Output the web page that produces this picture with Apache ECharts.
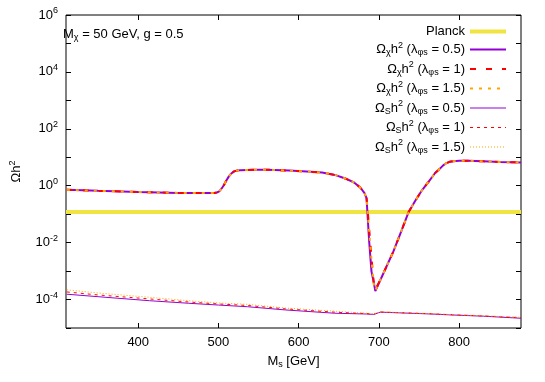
<!DOCTYPE html>
<html>
<head>
<meta charset="utf-8">
<script src="https://cdn.jsdelivr.net/npm/echarts@6/dist/echarts.min.js"></script>
<style>
  html, body { margin: 0; padding: 0; background: #fff; }
  #chart { width: 545px; height: 382px; }
</style>
</head>
<body>
<div id="chart"></div>
<script>
// x range and tick labels
const xMin = 310
const xMax = 877
const xTicks = [400, 500, 600, 700, 800]
const yTicks = [1e-5, 1e-4, 1e-3, 1e-2, 1e-1, 1, 10, 100, 1e3, 1e4, 1e5, 1e6]
const yLabels = [1e-4, 1e-2, 1, 100, 1e4, 1e6]
const planck = 0.12

// Omega_chi h^2 (upper curves)
const msChi = [311, 350, 400, 450, 480, 495, 498, 501, 504, 507, 510, 513, 516, 519.5, 523, 527.5, 545, 560, 588, 610, 629, 645, 658, 669, 677, 682, 684.5, 685.5, 687.8, 690.7, 693.5, 695.5, 706, 718, 728, 737, 746, 754, 762, 770, 776, 780, 784, 788, 793, 800, 811, 830, 851, 877]
const chi05 = [0.72, 0.66, 0.60, 0.56, 0.55, 0.56, 0.58, 0.63, 0.8, 1.08, 1.55, 2.13, 2.7, 3.2, 3.4, 3.5, 3.65, 3.65, 3.4, 3.15, 2.9, 2.4, 1.8, 1.3, 0.85, 0.55, 0.37, 0.13, 0.011, 9.6e-4, 4e-4, 2.0e-4, 8.9e-4, 4.9e-3, 0.026, 0.12, 0.32, 0.72, 1.4, 2.8, 4.0, 5.2, 6.2, 6.9, 7.3, 7.55, 7.6, 7.2, 6.8, 6.6]
const chi1 = [0.72, 0.66, 0.60, 0.56, 0.55, 0.56, 0.58, 0.63, 0.8, 1.08, 1.55, 2.13, 2.7, 3.2, 3.4, 3.5, 3.65, 3.65, 3.4, 3.15, 2.9, 2.4, 1.8, 1.3, 0.85, 0.55, 0.37, 0.2, 0.03, 3e-3, 4e-4, 2.2e-4, 8.9e-4, 4.9e-3, 0.026, 0.12, 0.32, 0.72, 1.4, 2.8, 4.0, 5.2, 6.2, 6.9, 7.3, 7.55, 7.6, 7.2, 6.8, 6.6]
const chi15 = [0.72, 0.66, 0.60, 0.56, 0.55, 0.56, 0.58, 0.63, 0.8, 1.08, 1.55, 2.13, 2.7, 3.2, 3.4, 3.5, 3.65, 3.65, 3.4, 3.15, 2.9, 2.4, 1.8, 1.3, 0.85, 0.55, 0.37, 0.18, 0.025, 2.5e-3, 3.5e-4, 2.1e-4, 8.9e-4, 4.9e-3, 0.026, 0.12, 0.32, 0.72, 1.4, 2.8, 4.0, 5.2, 6.2, 6.9, 7.3, 7.55, 7.6, 7.2, 6.8, 6.6]

// Omega_S h^2 (lower curves)
const msS = [311, 350, 414, 463, 500, 536, 584, 645, 685, 693.5, 701.6, 766, 787, 830, 877]
const s05 = [1.54e-4, 1.26e-4, 9.1e-5, 7.4e-5, 6.4e-5, 5.6e-5, 4.3e-5, 3.3e-5, 3.1e-5, 3.0e-5, 3.6e-5, 3.1e-5, 2.9e-5, 2.6e-5, 2.2e-5]
const s1 = [1.85e-4, 1.45e-4, 1.05e-4, 8.2e-5, 7.0e-5, 6.2e-5, 4.7e-5, 3.6e-5, 3.2e-5, 3.05e-5, 3.65e-5, 3.15e-5, 2.95e-5, 2.65e-5, 2.3e-5]
const s15 = [2.2e-4, 1.7e-4, 1.2e-4, 9.1e-5, 7.6e-5, 6.8e-5, 5.0e-5, 3.9e-5, 3.3e-5, 3.1e-5, 3.7e-5, 3.2e-5, 3.0e-5, 2.7e-5, 2.4e-5]

const purple = '#9400d3'
const red = '#ff0000'
const orange = '#ffa500'
const yellow = '#f0e442'
const font = 'Liberation Sans, Arial, sans-serif'

const rich = {
  sub: { fontSize: 9, fontFamily: font, color: '#000', padding: [7, 0, 0, 0] },
  sup: { fontSize: 9, fontFamily: font, color: '#000', padding: [0, 0, 8, 0] }
}

const legendNames = {
  planck: 'Planck',
  chi05: 'Ω{sub|χ}h{sup|2} (λ{sub|φs} = 0.5)',
  chi1: 'Ω{sub|χ}h{sup|2} (λ{sub|φs} = 1)',
  chi15: 'Ω{sub|χ}h{sup|2} (λ{sub|φs} = 1.5)',
  s05: 'Ω{sub|S}h{sup|2} (λ{sub|φs} = 0.5)',
  s1: 'Ω{sub|S}h{sup|2} (λ{sub|φs} = 1)',
  s15: 'Ω{sub|S}h{sup|2} (λ{sub|φs} = 1.5)'
}

// line styles per series: [color, width, dash]
const styles = {
  planck: [yellow, 4, 'solid'],
  chi05: [purple, 2, 'solid'],
  chi1: [red, 2, [6, 10]],
  chi15: [orange, 2, [3, 6]],
  s05: [purple, 1, 'solid'],
  s1: [red, 1, [3, 4]],
  s15: [orange, 1, [1, 2]]
}
const lineStyleOf = n => ({ color: styles[n][0], width: styles[n][1], type: styles[n][2] })

const zip = (xs, ys) => xs.map((x, i) => [x, ys[i]])

function line(name, xs, ys) {
  return {
    name: name,
    type: 'line',
    data: zip(xs, ys),
    symbol: 'none',
    showSymbol: false,
    color: styles[name][0],
    lineStyle: lineStyleOf(name)
  }
}

const chart = echarts.init(document.getElementById('chart'))
const option = {
  animation: false,
  textStyle: { fontFamily: font },
  title: {
    text: 'M{sub|χ} = 50 GeV, g = 0.5',
    left: 63,
    top: 26,
    padding: 0,
    textStyle: { fontSize: 13, fontWeight: 'normal', color: '#000', fontFamily: font, rich: rich }
  },
  legend: {
    orient: 'vertical',
    right: 37,
    top: 25,
    padding: 0,
    align: 'right',
    itemWidth: 36,
    itemHeight: 14,
    itemGap: 3,
    itemStyle: { opacity: 0 },
    formatter: n => legendNames[n],
    textStyle: { fontSize: 13, color: '#000', fontFamily: font, rich: rich },
    data: Object.keys(styles).map(n => ({ name: n, lineStyle: lineStyleOf(n) }))
  },
  grid: {
    left: 55,
    right: 24,
    top: 15,
    bottom: 54,
    show: true,
    borderColor: '#000',
    borderWidth: 1
  },
  xAxis: [
    {
      type: 'value',
      min: xMin,
      max: xMax,
      name: 'M{sub|s} [GeV]',
      nameLocation: 'middle',
      nameGap: 25,
      nameTextStyle: { fontSize: 13, color: '#000', fontFamily: font, rich: rich },
      axisLine: { show: false },
      splitLine: { show: false },
      axisTick: { inside: true, length: 5, customValues: xTicks, lineStyle: { color: '#000' } },
      axisLabel: { customValues: xTicks, color: '#000', fontSize: 13, margin: 8 }
    },
    {
      type: 'value',
      position: 'top',
      min: xMin,
      max: xMax,
      axisLine: { show: false },
      splitLine: { show: false },
      axisTick: { inside: true, length: 5, customValues: xTicks, lineStyle: { color: '#000' } },
      axisLabel: { show: false, customValues: xTicks }
    }
  ],
  yAxis: [
    {
      type: 'log',
      logBase: 10,
      min: 1e-5,
      max: 1e6,
      name: 'Ωh{sup|2}',
      nameLocation: 'middle',
      nameGap: 41,
      nameTextStyle: { fontSize: 13, color: '#000', fontFamily: font, rich: rich },
      axisLine: { show: false },
      splitLine: { show: false },
      axisTick: { inside: true, length: 5, customValues: yTicks, lineStyle: { color: '#000' } },
      axisLabel: {
        customValues: yLabels,
        color: '#000',
        fontSize: 13,
        margin: 8,
        rich: rich,
        formatter: v => '10{sup|' + Math.round(Math.log10(v)) + '}'
      }
    },
    {
      type: 'log',
      logBase: 10,
      min: 1e-5,
      max: 1e6,
      position: 'right',
      axisLine: { show: false },
      splitLine: { show: false },
      axisTick: { inside: true, length: 5, customValues: yTicks, lineStyle: { color: '#000' } },
      axisLabel: { show: false, customValues: yLabels }
    }
  ],
  series: [
    line('planck', [xMin, xMax], [planck, planck]),
    line('chi05', msChi, chi05),
    line('chi1', msChi, chi1),
    line('chi15', msChi, chi15),
    line('s05', msS, s05),
    line('s1', msS, s1),
    line('s15', msS, s15)
  ]
}
chart.setOption(option)
</script>
</body>
</html>
